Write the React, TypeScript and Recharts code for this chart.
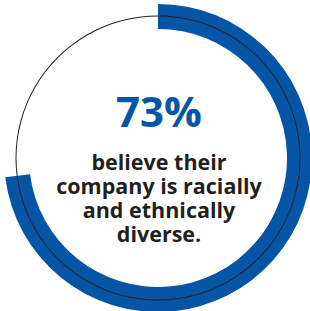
import { Cell, Pie, PieChart } from "recharts";
import * as React from "react";

// share of respondents
const segments = ["Diverse", "Other"];
const shares = [73, 27];
const headline = "73%";
const captionLines = ["believe their", "company is racially", "and ethnically", "diverse."];

const BLUE = "#0455a6";
const INK = "#231f20";

const ringData = segments.map((name, i) => ({ name, value: shares[i] }));
const guideData = [{ name: "guide", value: 100 }];

export default function App() {
  const cx = 158;
  const cy = 158;
  return (
    <div style={{ position: "absolute", left: 0, top: 0, background: "#fff" }}>
      <PieChart width={310} height={311} margin={{ top: 0, right: 0, bottom: 0, left: 0 }}>
        <Pie
          data={ringData}
          dataKey="value"
          cx={cx}
          cy={cy}
          innerRadius={129}
          outerRadius={154}
          startAngle={90}
          endAngle={-270}
          stroke="none"
          isAnimationActive={false}
        >
          {ringData.map((d, i) => (
            <Cell key={d.name} fill={i === 0 ? BLUE : "transparent"} />
          ))}
        </Pie>
        <Pie
          data={guideData}
          dataKey="value"
          cx={cx}
          cy={cy}
          innerRadius={141.5}
          outerRadius={142.5}
          startAngle={90}
          endAngle={-270}
          stroke="none"
          fill={INK}
          isAnimationActive={false}
        />
        <text
          x={159}
          y={127}
          textAnchor="middle"
          fill={BLUE}
          style={{ fontFamily: "'Open Sans', sans-serif", fontWeight: 700, fontSize: 42 }}
        >
          {headline}
        </text>
        {captionLines.map((line, i) => (
          <text
            key={line}
            x={159}
            y={170 + i * 24}
            textAnchor="middle"
            fill={INK}
            style={{ fontFamily: "'Open Sans', sans-serif", fontWeight: 700, fontSize: 21.5 }}
          >
            {line}
          </text>
        ))}
      </PieChart>
    </div>
  );
}
